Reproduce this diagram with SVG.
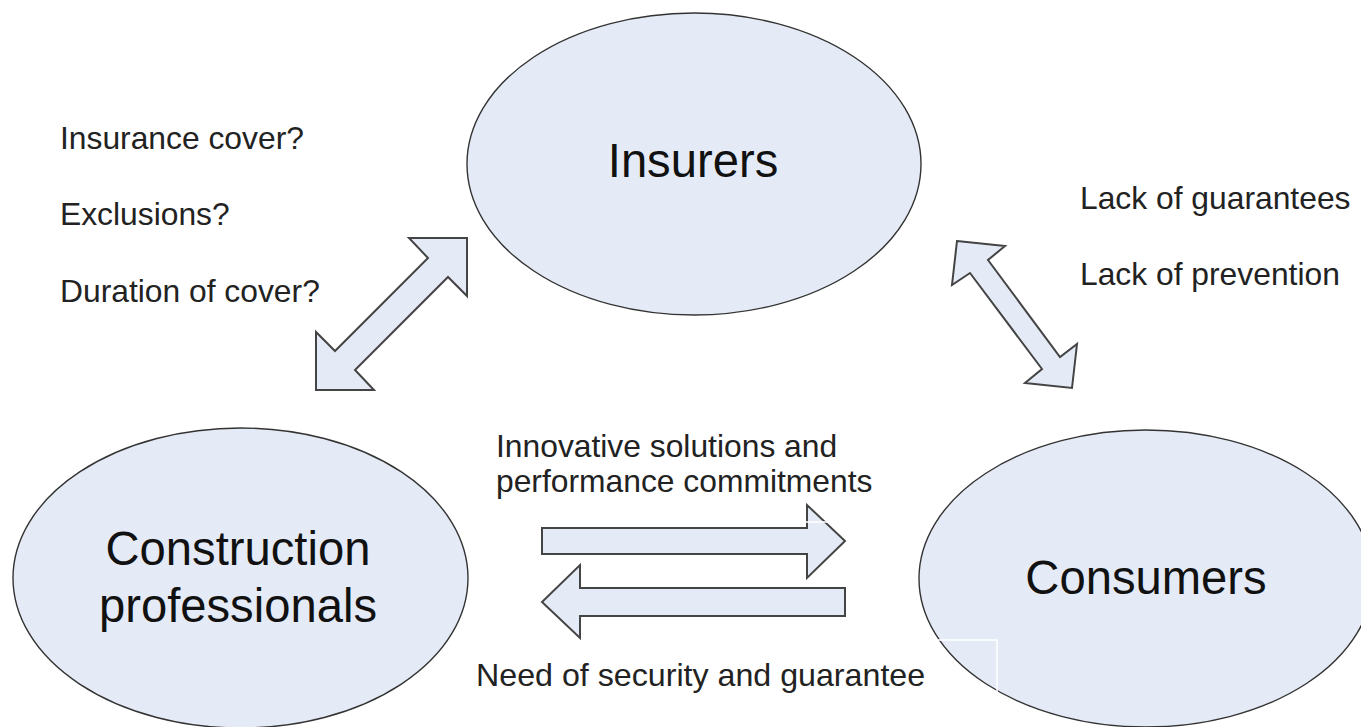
<svg xmlns="http://www.w3.org/2000/svg" width="1361" height="727" viewBox="0 0 1361 727">
<style>
.node{fill:#e5ebf6;stroke:#333;stroke-width:1.4}
.arr{fill:#e5ebf6;stroke:#444;stroke-width:2;stroke-linejoin:miter}
.big{font-family:"Liberation Sans",Arial,sans-serif;font-size:47.2px;fill:#111;text-anchor:middle}
.lbl{font-family:"Liberation Sans",Arial,sans-serif;font-size:31.8px;fill:#222}
.art{fill:none;stroke:#fff;stroke-width:1.5}
</style>
<rect width="1361" height="727" fill="#fff"/>
<g id="insurers">
<ellipse class="node" cx="694" cy="164" rx="227" ry="151"/>
<text class="big" x="693" y="177">Insurers</text>
</g>
<g id="construction">
<ellipse class="node" cx="240.5" cy="578" rx="227.5" ry="150"/>
<text class="big" x="238" y="565">Construction</text>
<text class="big" x="238" y="622">professionals</text>
</g>
<g id="consumers">
<ellipse class="node" cx="1146" cy="578.5" rx="227" ry="148.5"/>
<text class="big" x="1146" y="594">Consumers</text>
<polyline class="art" points="936,640 997,640 997,700"/>
</g>
<g id="connectors">
<polygon class="arr" points="467,238 467,296 448,277 355,370 374,390 316,390 316,332 335,351 428,258 409,238"/>
<polygon class="arr" points="957,241 1005,246 988,260 1060,357 1077,344 1072,388 1025,383 1042,369 970,273 952,285"/>
<polygon class="arr" points="542,528 807,528 807,505 845,541 807,578 807,554 542,554"/>
<polygon class="arr" points="845,588 580,588 580,565 542,602 580,638 580,616 845,616"/>
<line class="art" x1="806" y1="522" x2="842" y2="522"/>
</g>
<g id="labels">
<text class="lbl" x="60" y="149">Insurance cover?</text>
<text class="lbl" x="60" y="225">Exclusions?</text>
<text class="lbl" x="60" y="302">Duration of cover?</text>
<text class="lbl" x="1080" y="209">Lack of guarantees</text>
<text class="lbl" x="1080" y="285">Lack of prevention</text>
<text class="lbl" x="496" y="457">Innovative solutions and</text>
<text class="lbl" x="496" y="492">performance commitments</text>
<text class="lbl" x="476" y="686" style="font-size:32.2px">Need of security and guarantee</text>
</g>
</svg>
